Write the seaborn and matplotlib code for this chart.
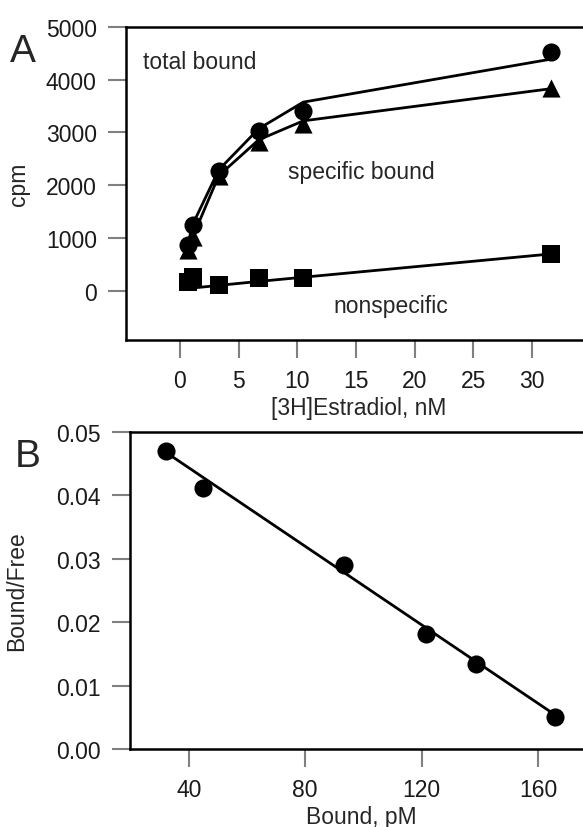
import matplotlib
matplotlib.use('Agg')
import matplotlib.pyplot as plt
import seaborn as sns

# Panel A: saturation binding, [3H]estradiol (nM) vs cpm
conc_nM = [0.66, 1.07, 3.3, 6.7, 10.5, 31.6]
total_cpm = [870, 1250, 2265, 3025, 3415, 4525]
specific_cpm = [780, 1010, 2180, 2820, 3165, 3840]
nonspecific_cpm = [160, 265, 108, 235, 235, 696]
# fitted curves as drawn in the figure
total_fit = [870, 1250, 2290, 3070, 3575, 4390]
specific_fit = [780, 1010, 2180, 2860, 3220, 3830]
nonspecific_fit = [40, 50, 100, 175, 255, 696]

# Panel B: Scatchard plot
bound_pM = [32.0, 44.8, 93.3, 121.7, 138.7, 165.7]
bound_free = [0.0470, 0.0412, 0.0290, 0.0181, 0.0134, 0.0051]
fit_bound = [32.3, 165.5]
fit_ratio = [0.0467, 0.0055]

a_xticks = [0, 5, 10, 15, 20, 25, 30]
a_yticks = [0, 1000, 2000, 3000, 4000, 5000]
b_xticks = [40, 80, 120, 160]
b_yticks = [0.00, 0.01, 0.02, 0.03, 0.04, 0.05]

sns.set_theme(style="ticks")
plt.rcParams['font.family'] = ['Liberation Sans', 'DejaVu Sans']

FS = 16.5  # text size
MS = 170   # marker area (pt^2)

fig = plt.figure(figsize=(5.83, 8.28), dpi=100)
ax_a = fig.add_axes([0.2161, 0.5882, 0.7994, 0.3780])
ax_b = fig.add_axes([0.2230, 0.0942, 0.7925, 0.3832])

# --- Panel A
for fit in [total_fit, specific_fit, nonspecific_fit]:
    sns.lineplot(x=conc_nM, y=fit, color='black', linewidth=2, ax=ax_a,
                 sort=False, estimator=None, zorder=2)
sns.scatterplot(x=conc_nM, y=total_cpm, marker='o', s=MS, color='black', linewidth=0, ax=ax_a, zorder=3)
sns.scatterplot(x=conc_nM, y=specific_cpm, marker='^', s=MS, color='black', linewidth=0, ax=ax_a, zorder=3)
sns.scatterplot(x=conc_nM, y=nonspecific_cpm, marker='s', s=MS, color='black', linewidth=0, ax=ax_a, zorder=3)

ax_a.set_xlim(-4.6, 35.1)
ax_a.set_ylim(-935, 5000)
ax_a.set_xticks(a_xticks)
ax_a.set_yticks(a_yticks)
ax_a.set_xlabel('[3H]Estradiol, nM', fontsize=FS, labelpad=3)
ax_a.set_ylabel('cpm', fontsize=FS)
ax_a.yaxis.set_label_coords(-0.205, 0.5)

ax_a.text(-3.15, 4340, 'total bound', fontsize=FS, ha='left', va='center')
ax_a.text(9.2, 2252, 'specific bound', fontsize=FS, ha='left', va='center')
ax_a.text(13.05, -290, 'nonspecific', fontsize=FS, ha='left', va='center')

# --- Panel B
sns.lineplot(x=fit_bound, y=fit_ratio, color='black', linewidth=2, ax=ax_b,
             sort=False, estimator=None, zorder=2)
sns.scatterplot(x=bound_pM, y=bound_free, marker='o', s=MS, color='black', linewidth=0, ax=ax_b, zorder=3)

ax_b.set_xlim(19.8, 178.6)
ax_b.set_ylim(0, 0.05)
ax_b.set_xticks(b_xticks)
ax_b.set_yticks(b_yticks)
ax_b.set_yticklabels([f'{v:.2f}' for v in b_yticks])
ax_b.set_xlabel('Bound, pM', fontsize=FS, labelpad=3)
ax_b.set_ylabel('Bound/Free', fontsize=FS)
ax_b.yaxis.set_label_coords(-0.22, 0.5)

# common styling
for ax in [ax_a, ax_b]:
    ax.tick_params(direction='out', length=13, width=1.5, color='#808080',
                   pad=8, labelsize=FS, labelcolor='#1a1a1a')
    for side in ['left', 'bottom', 'top', 'right']:
        ax.spines[side].set_visible(True)
        ax.spines[side].set_linewidth(1.8)
        ax.spines[side].set_color('black')
    ax.set_facecolor('white')

fig.text(0.0395, 0.937, 'A', fontsize=28, ha='center', va='center')
fig.text(0.048, 0.448, 'B', fontsize=28, ha='center', va='center')

fig.savefig('out.png', dpi=100, facecolor='white')
plt.close(fig)
